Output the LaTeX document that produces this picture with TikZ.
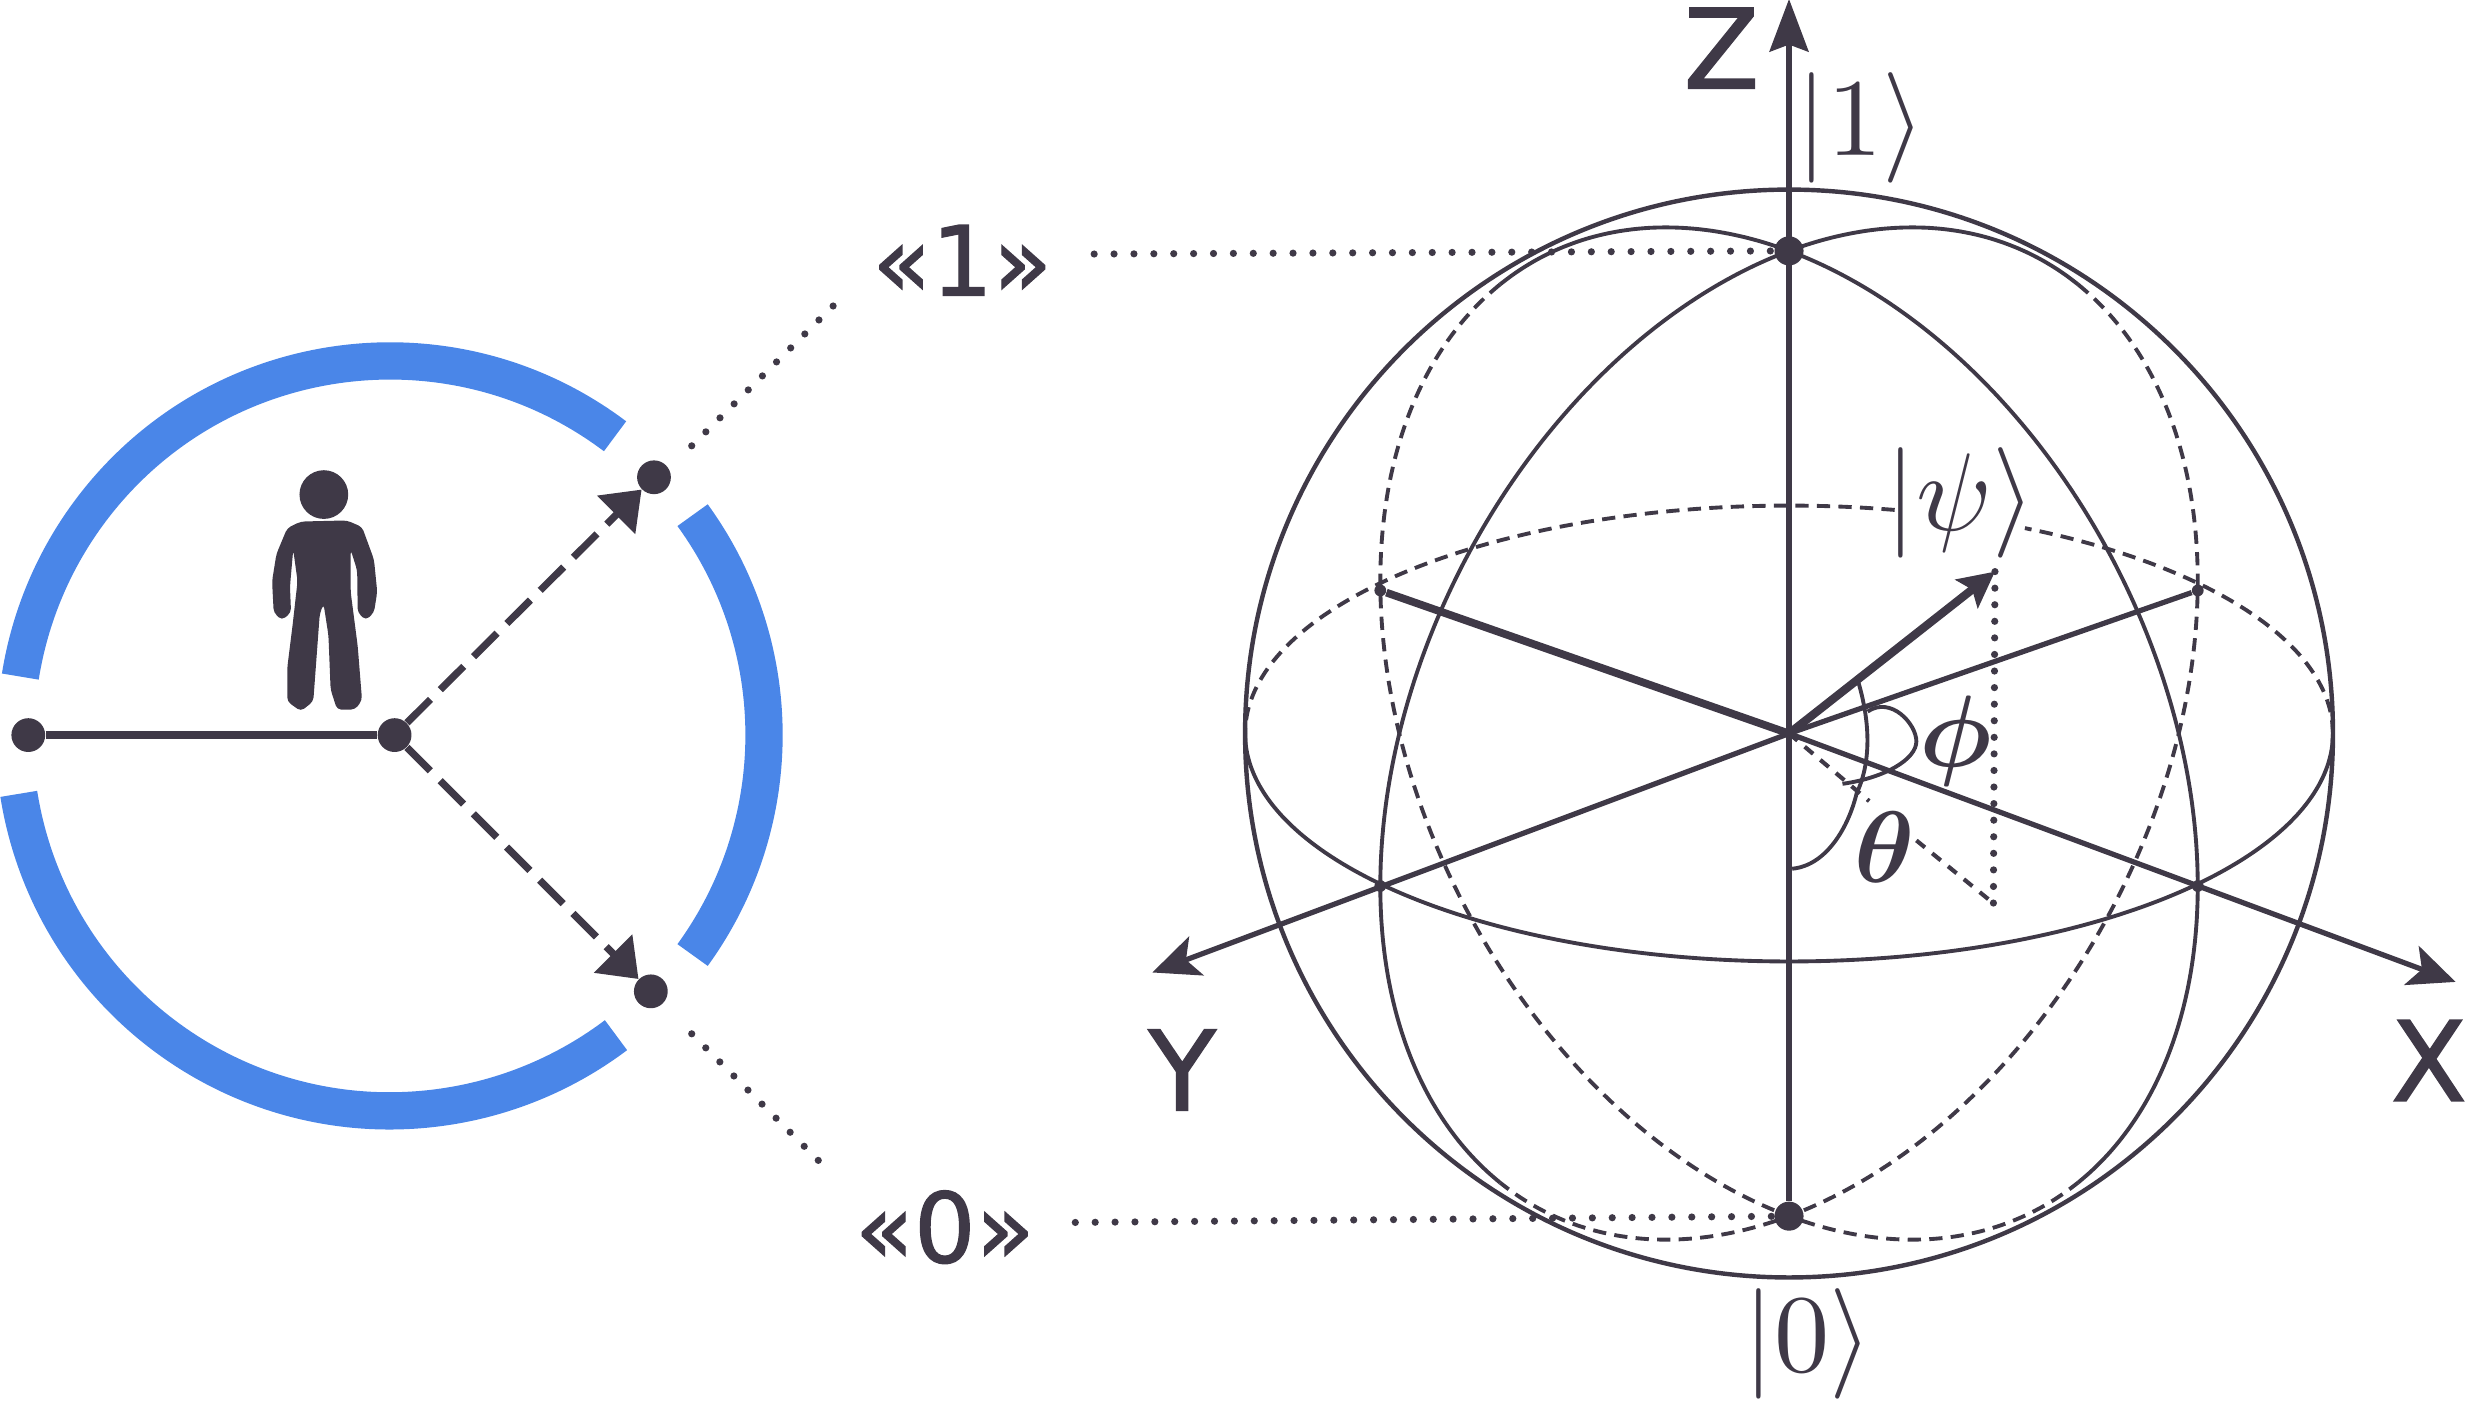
\documentclass[tikz,border=0pt]{standalone}
\usepackage{amsmath,amssymb}
\usepackage{fontspec}
\newfontfamily\labelfont[FakeBold=1.4]{DejaVu Sans}
\usepackage{tikz}
\usetikzlibrary{arrows.meta,positioning,calc}
\definecolor{ink}{RGB}{63,57,71}
\definecolor{ring}{RGB}{74,134,232}
\tikzset{
  dot/.style={circle, fill=ink, inner sep=0pt, minimum size=0.43cm},
  tinydot/.style={circle, fill=ink, inner sep=0pt, minimum size=0.15cm},
  ringarc/.style={draw=ring, line width=13.5pt},
  branch/.style={ink, line width=2.6pt, dash pattern=on 12pt off 5pt,
                 -{Triangle[length=13pt,width=19pt]}},
  leader/.style={ink, line width=2.6pt, line cap=round, dash pattern=on 0pt off 7.2pt},
  shell/.style={ink, line width=1.6pt},
  circlefront/.style={ink, line width=1.4pt},
  circleback/.style={ink, line width=1.4pt, dash pattern=on 4.8pt off 3pt},
  axis/.style={ink, line width=1.9pt},
  tipaxis/.style={axis, -{Stealth[length=17pt,width=15pt,inset=4pt]}},
  ket/.style={scale=4, text=ink, inner sep=0pt},
  angletext/.style={ket, execute at begin node=\boldmath},
  letter/.style={font=\labelfont\fontsize{40}{44}\selectfont, text=ink, inner sep=0pt},
  bitlabel/.style={font=\labelfont\fontsize{35}{40}\selectfont, text=ink, inner sep=0pt},
}

\begin{document}
\begin{tikzpicture}[x=0.02cm, y=0.02cm]
  \useasboundingbox (0,0) rectangle (1568,890.6);

  % left part
  \coordinate (ringc) at (248,423);
  \draw[ringarc] ($(ringc)+(53:238)$) arc[start angle=53, end angle=171, radius=238];
  \draw[ringarc] ($(ringc)+(-36:238)$) arc[start angle=-36, end angle=36, radius=238];
  \draw[ringarc] ($(ringc)+(189:239)$) arc[start angle=189, end angle=307, radius=239];

  \node[dot] (src) at (18,423) {};
  \node[dot] (hub) at (251,423) {};
  \node[dot] (upper) at (416,587) {};
  \node[dot] (lower) at (414,260) {};
  \draw[ink, line width=2.7pt] (src) -- (hub);
  \draw[branch] (hub) -- (upper);
  \draw[branch] (hub) -- (lower);

  \node[circle, fill=ink, inner sep=0pt, minimum size=0.62cm] (head) at (206,576) {};
  \begin{scope}[shift={(0,700.2)}, x=0.0069cm, y=-0.0069cm]
    \fill[ink, rounded corners=1.5pt] (555,410) -- (640,408) -- (668,420) -- (690,480)
      -- (696,540) -- (690,578) -- (675,592) -- (660,578) -- (659,500) -- (647,462)
      -- (647,540) -- (660,640) -- (668,740) -- (655,757) -- (622,757) -- (610,720)
      -- (606,620) -- (597,562) -- (590,580) -- (578,742) -- (555,760) -- (530,742)
      -- (530,680) -- (540,600) -- (549,520) -- (541,462) -- (535,530) -- (537,578)
      -- (520,592) -- (505,578) -- (502,520) -- (510,470) -- (530,422) -- cycle;
  \end{scope}

  \coordinate (uppera) at (440,607);
  \coordinate (upperb) at (531,697);
  \coordinate (lowera) at (440,233);
  \coordinate (lowerb) at (521,152);
  \draw[leader] (uppera) -- (upperb);
  \draw[leader] (lowera) -- (lowerb);

  \node[bitlabel] (one) at (612,725) {«1»};
  \node[bitlabel] (zero) at (601,110) {«0»};

  % sphere
  \coordinate (c) at (1138,424);
  \draw[shell] (c) circle[radius=346];

  \draw[circlefront] plot[domain=180:360, samples=70, smooth]
    ({1138+346*cos(\x)}, {424+145*sin(\x)});
  \draw[circleback] plot[domain=0:64.3, samples=30, smooth]
    ({1138+346*cos(\x)}, {424+145*sin(\x)});
  \draw[circleback] plot[domain=78.8:180, samples=40, smooth]
    ({1138+346*cos(\x)}, {424+145*sin(\x)});

  \foreach \s in {1,-1} {
    \draw[circlefront] plot[domain=-45:135, samples=80, smooth]
      ({1138+\s*260*cos(\x)}, {424-97*cos(\x)+307*sin(\x)});
    \draw[circleback] plot[domain=135:315, samples=80, smooth]
      ({1138+\s*260*cos(\x)}, {424-97*cos(\x)+307*sin(\x)});
  }

  \node[dot, minimum size=0.37cm] (north) at (1138,731) {};
  \node[dot, minimum size=0.37cm] (south) at (1138,117) {};
  \coordinate (ztip) at (1138,893);
  \node[tinydot] (xback) at (878,515) {};
  \node[tinydot] (yback) at (1398,515) {};
  \node[tinydot] (xmark) at (1398,327) {};
  \node[tinydot] (ymark) at (878,327) {};
  \coordinate (xtip) at (1562,266);
  \coordinate (ytip) at (733,272);

  \draw[ink, line width=2.3pt, -{Stealth[length=19pt,width=14pt,inset=2.5pt,sep=1pt]}] (south) -- (ztip);
  \draw[ink, line width=2.8pt] (xback) -- (c);
  \draw[tipaxis] (c) -- (xtip);
  \draw[axis] (yback) -- (c);
  \draw[tipaxis] (c) -- (ytip);

  % state vector
  \coordinate (psi) at (1269,527);
  \coordinate (foot) at (1268,316);
  \coordinate (dasha) at (1189,381);
  \coordinate (dashb) at (1219,356);
  \draw[ink, line width=3pt, -{Stealth[length=13pt,width=13pt,inset=2.5pt]}] (c) -- (psi);
  \draw[leader, dash pattern=on 0pt off 6pt] (psi) -- (foot);
  \draw[ink, line width=1.5pt, dash pattern=on 4pt off 3.4pt] (c) -- (dasha);
  \draw[ink, line width=1.5pt, dash pattern=on 4pt off 3.4pt] (dashb) -- (foot);

  % angles
  \draw[ink, line width=1.4pt] (1182,457) .. controls (1190,430) and (1190,405) .. (1181,386)
    .. controls (1176,365) and (1162,340) .. (1140,338);
  \draw[ink, line width=1.4pt] (1188,438) .. controls (1203,448) and (1219,430) .. (1219,419)
    .. controls (1219,408) and (1200,396) .. (1172,392);

  % labels
  \node[letter] (zlabel) at (1095,860) {Z};
  \node[letter] (ylabel) at (752,210) {Y};
  \node[letter] (xlabel) at (1545,216) {X};
  \node[ket] (keta) at (1184,809) {$|1\rangle$};
  \node[ket] (ketb) at (1150,36) {$|0\rangle$};
  \node[ket] (ketc) at (1247,571) {$|\psi\rangle$};
  \node[angletext, scale=0.92] (phi) at (1244,419) {$\phi$};
  \node[angletext, scale=0.92] (theta) at (1199,352) {$\theta$};

  \coordinate (onea) at (696,729);
  \coordinate (zeroa) at (684,113);
  \draw[leader] (onea) -- (north);
  \draw[leader] (zeroa) -- (south);
\end{tikzpicture}
\end{document}
